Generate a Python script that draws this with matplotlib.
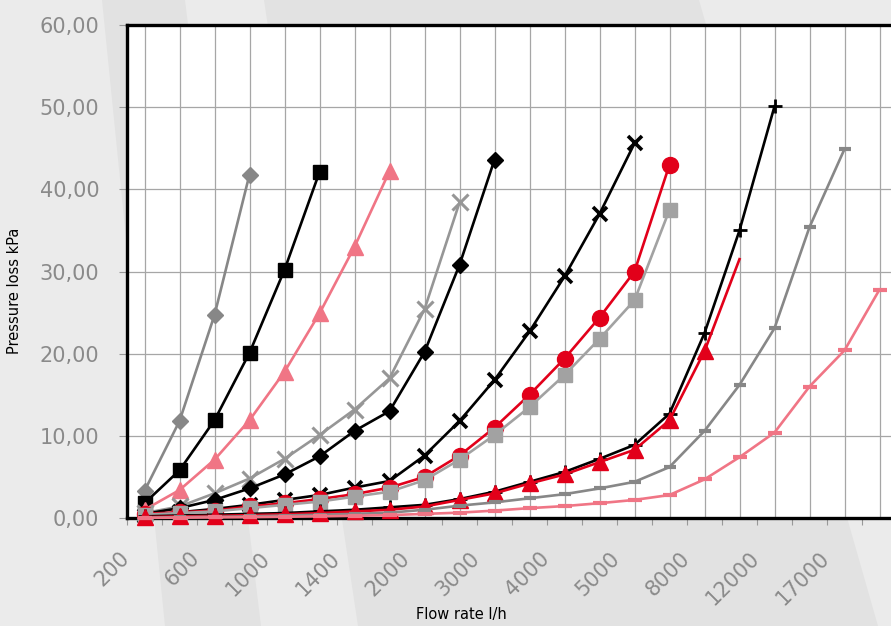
import numpy as np
import matplotlib
matplotlib.use("Agg")
import matplotlib.pyplot as plt
from matplotlib.patches import Polygon
from matplotlib.transforms import ScaledTranslation

# Flow rate categories (every second one is labelled on the axis)
flow_labels = ['200', '600', '1000', '1400', '2000', '3000', '4000',
               '5000', '8000', '12000', '17000']
n_categories = 22

# Pressure loss kPa per curve, starting at the first category
grey_diamond = [3.3, 11.8, 24.7, 41.8]
black_square = [1.8, 5.8, 11.9, 20.1, 30.2, 42.1]
pink_triangle = [1.0, 3.4, 7.1, 11.9, 17.8, 24.9, 33.0, 42.2]
grey_x = [0.6, 1.4, 3.0, 4.8, 7.2, 10.1, 13.2, 17.0, 25.4, 38.4]
black_diamond = [0.5, 1.2, 2.2, 3.6, 5.3, 7.5, 10.6, 13.0, 20.2, 30.8, 43.6]
black_x = [0.3, 0.7, 1.1, 1.6, 2.2, 2.8, 3.7, 4.5, 7.6, 11.8, 16.8, 22.7,
           29.4, 37.0, 45.6]
red_circle = [0.5, 0.7, 0.9, 1.4, 1.8, 2.3, 2.9, 3.7, 5.0, 7.6, 11.0, 15.0,
              19.4, 24.4, 30.0, 43.0]
grey_square = [0.4, 0.6, 0.8, 1.2, 1.6, 2.0, 2.6, 3.2, 4.6, 7.1, 10.1, 13.5,
               17.4, 21.8, 26.5, 37.5]
black_plus = [0.2, 0.3, 0.4, 0.5, 0.6, 0.8, 1.0, 1.3, 1.6, 2.3, 3.2, 4.4,
              5.6, 7.2, 8.9, 12.7, 22.5, 35.0, 50.1]
red_triangle = [0.1, 0.2, 0.25, 0.35, 0.45, 0.6, 0.8, 1.0, 1.4, 2.2, 3.0, 4.2,
                5.3, 6.8, 8.3, 11.9, 20.3, 31.5]
grey_dash = [0.05, 0.1, 0.15, 0.2, 0.3, 0.4, 0.5, 0.65, 1.0, 1.5, 1.9, 2.4,
             2.9, 3.6, 4.4, 6.2, 10.6, 16.2, 23.1, 35.4, 44.9]
pink_dash = [0.02, 0.04, 0.07, 0.1, 0.15, 0.2, 0.27, 0.35, 0.5, 0.65, 0.9,
             1.2, 1.45, 1.8, 2.2, 2.8, 4.7, 7.4, 10.4, 16.0, 20.4, 27.8]

GREY_D = '#878787'
GREY_L = '#a2a2a2'
PINK = '#f07585'
RED = '#e2001a'

series = [
    (grey_diamond, GREY_D, 'D', 8.5, 1),
    (black_square, 'black', 's', 10.5, 1),
    (pink_triangle, PINK, '^', 11, 1),
    (grey_x, '#969696', 'x', 11, 2.2),
    (black_diamond, 'black', 'D', 8.5, 1),
    (black_x, 'black', 'x', 10, 2.6),
    (red_circle, RED, 'o', 11.5, 1),
    (grey_square, GREY_L, 's', 10.5, 1),
    (black_plus, 'black', '+', 10, 2),
    (red_triangle, RED, '^', 12, 1),
    (grey_dash, GREY_D, '_', 9, 3),
    (pink_dash, PINK, '_', 10, 3),
]

W, H = 891, 626
fig = plt.figure(figsize=(W / 100, H / 100), dpi=100)
fig.patch.set_facecolor('#ebebeb')

# slanted decorative bands in the background (pixel coords)
bands = [[(102, 0), (185, 0), (261, 626), (165, 626)],
         [(264, 0), (699, 0), (878, 626), (358, 626)]]
for b in bands:
    pts = [(x / W, 1 - y / H) for x, y in b]
    fig.patches.append(Polygon(pts, closed=True, transform=fig.transFigure,
                               facecolor='#e2e2e2', edgecolor='none', zorder=-5))

x0, x1, y_top, y_bot = 127, 891, 25, 518
ax = fig.add_axes([x0 / W, 1 - y_bot / H, (x1 - x0) / W, (y_bot - y_top) / H])
ax.set_zorder(2)
ax.set_facecolor('white')

unit_px = 17.5
ax.set_xlim(0, (x1 - x0) / unit_px)
ax.set_ylim(0, 60)

for vals, col, mk, ms, mew in series:
    xs = 2 * np.arange(len(vals)) + 1
    every = list(range(len(vals)))
    if vals is red_triangle:
        every = every[:-1]
    ax.plot(xs, vals, color=col, lw=1.9, marker=mk, markersize=ms,
            markeredgewidth=mew, markevery=every, clip_on=False, zorder=3)

ax.set_axisbelow(True)
ax.set_xticks(np.arange(1, 44), minor=True)
ax.grid(True, which='minor', axis='x', color='#a6a6a6', lw=0.9)
ax.set_yticks(np.arange(0, 61, 10))
ax.grid(True, which='major', axis='y', color='#a6a6a6', lw=0.9)
ax.set_yticklabels([f'{v:.2f}'.replace('.', ',') for v in range(0, 61, 10)],
                   color='#8a8a8a', fontsize=15)
ax.tick_params(axis='y', length=6, width=0.8, color='#999999', pad=14)
ax.set_xticks(np.arange(0, 44, 2))
ax.set_xticklabels([])
ax.tick_params(axis='x', which='major', length=5, width=0.8, color='#999999')
ax.tick_params(axis='x', which='minor', length=0)

for side in ['left', 'top', 'bottom']:
    ax.spines[side].set_linewidth(2.4)
    ax.spines[side].set_color('black')
ax.spines['right'].set_visible(False)

offset = ScaledTranslation(-18 / 100, -37 / 100, fig.dpi_scale_trans)
for i, lab in enumerate(flow_labels):
    ax.text(4 * i + 1, 0, lab, transform=ax.get_xaxis_transform() + offset,
            rotation=45, rotation_mode='anchor', ha='right', va='center',
            fontsize=15, color='#8a8a8a')

fig.text(461 / W, 1 - 615 / H, 'Flow rate l/h', ha='center', va='center',
         fontsize=10.5, color='black')
fig.text(15 / W, 1 - 291 / H, 'Pressure loss kPa', ha='center', va='center',
         rotation=90, fontsize=10.5, color='black')

fig.savefig('out.png', dpi=100, facecolor=fig.get_facecolor())
